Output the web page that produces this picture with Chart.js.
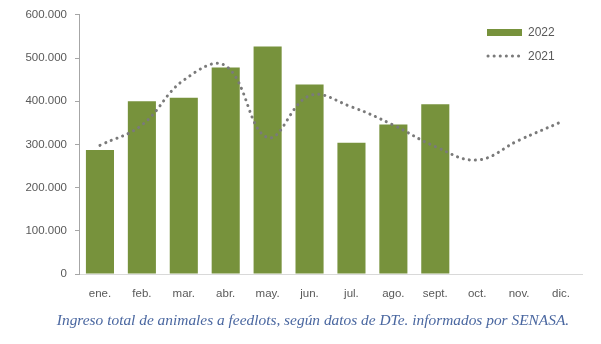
<!DOCTYPE html>
<html>
<head>
<meta charset="utf-8">
<script src="https://cdn.jsdelivr.net/npm/chart.js@4"></script>
<style>
  html, body { margin: 0; padding: 0; background: #fff; }
  #wrap { width: 601px; height: 344px; position: relative; }
</style>
</head>
<body>
<div id="wrap"><canvas id="c" width="601" height="344"></canvas></div>
<script>
const months = ['ene.', 'feb.', 'mar.', 'abr.', 'may.', 'jun.', 'jul.', 'ago.', 'sept.', 'oct.', 'nov.', 'dic.'];
const ingresos2022 = [287000, 400000, 408000, 478000, 527000, 439000, 304000, 346000, 393000, null, null, null];
const ingresos2021 = [298000, 345000, 449000, 482000, 316000, 413000, 387000, 345000, 295000, 264000, 310000, 352000];
const yTicks = [0, 100000, 200000, 300000, 400000, 500000, 600000];
const caption = 'Ingreso total de animales a feedlots, según datos de DTe. informados por SENASA.';

const GREEN = '#77923c';
const DOTS = '#7a7a7a';
const TEXT = '#595959';

const fmt = v => v === 0 ? '0' : v.toLocaleString('de-DE');

// Legend drawn in the upper right, stacked vertically
const sideLegend = {
  id: 'sideLegend',
  afterDraw(chart) {
    const ctx = chart.ctx;
    const x0 = 487, x1 = 522, tx = 528;
    ctx.save();
    ctx.font = '12px "Liberation Sans", Arial, sans-serif';
    ctx.textBaseline = 'middle';
    ctx.textAlign = 'left';
    // bar series
    ctx.fillStyle = chart.data.datasets[0].backgroundColor;
    ctx.fillRect(x0, 29, x1 - x0, 7);
    ctx.fillStyle = TEXT;
    ctx.fillText(chart.data.datasets[0].label, tx, 33);
    // dotted series
    ctx.strokeStyle = chart.data.datasets[1].borderColor;
    ctx.lineWidth = 3;
    ctx.lineCap = 'round';
    ctx.setLineDash([0.1, 6]);
    ctx.beginPath();
    ctx.moveTo(x0 + 1, 56);
    ctx.lineTo(x1, 56);
    ctx.stroke();
    ctx.setLineDash([]);
    ctx.fillText(chart.data.datasets[1].label, tx, 57);
    ctx.restore();
  }
};

// Source note under the chart
const sourceNote = {
  id: 'sourceNote',
  afterDraw(chart) {
    const ctx = chart.ctx;
    ctx.save();
    ctx.font = 'italic 15.4px "Liberation Serif", serif';
    ctx.fillStyle = '#4a67a0';
    ctx.textAlign = 'center';
    ctx.textBaseline = 'middle';
    ctx.fillText(caption, 313, 321);
    ctx.restore();
  }
};

new Chart(document.getElementById('c'), {
  data: {
    labels: months,
    datasets: [
      {
        type: 'bar',
        label: '2022',
        data: ingresos2022,
        backgroundColor: GREEN,
        borderWidth: 0,
        categoryPercentage: 1,
        barPercentage: 0.67,
        order: 2
      },
      {
        type: 'line',
        label: '2021',
        data: ingresos2021,
        borderColor: DOTS,
        borderWidth: 3,
        borderCapStyle: 'round',
        borderDash: [0.1, 6],
        pointRadius: 0,
        tension: 0.4,
        fill: false,
        order: 1
      }
    ]
  },
  options: {
    responsive: false,
    animation: false,
    layout: { padding: { left: 0, right: 19, top: 9, bottom: 38 } },
    plugins: {
      legend: { display: false },
      tooltip: { enabled: false },
      title: { display: false }
    },
    scales: {
      x: {
        grid: { display: false },
        border: { display: true, color: '#d9d9d9', width: 1 },
        ticks: {
          color: TEXT,
          font: { family: '"Liberation Sans", Arial, sans-serif', size: 11.5 },
          padding: 5,
          maxRotation: 0,
          autoSkip: false
        },
        afterFit(scale) { scale.height = 32; }
      },
      y: {
        min: 0,
        max: 600000,
        afterBuildTicks(scale) { scale.ticks = yTicks.map(v => ({ value: v })); },
        grid: {
          drawOnChartArea: false,
          drawTicks: true,
          tickLength: 4,
          color: '#a6a6a6'
        },
        border: { display: true, color: '#a6a6a6', width: 1 },
        ticks: {
          color: TEXT,
          font: { family: '"Liberation Sans", Arial, sans-serif', size: 11.5 },
          padding: 8,
          callback: v => fmt(v)
        },
        afterFit(scale) { scale.width = 79; }
      }
    }
  },
  plugins: [sideLegend, sourceNote]
});
</script>
</body>
</html>
